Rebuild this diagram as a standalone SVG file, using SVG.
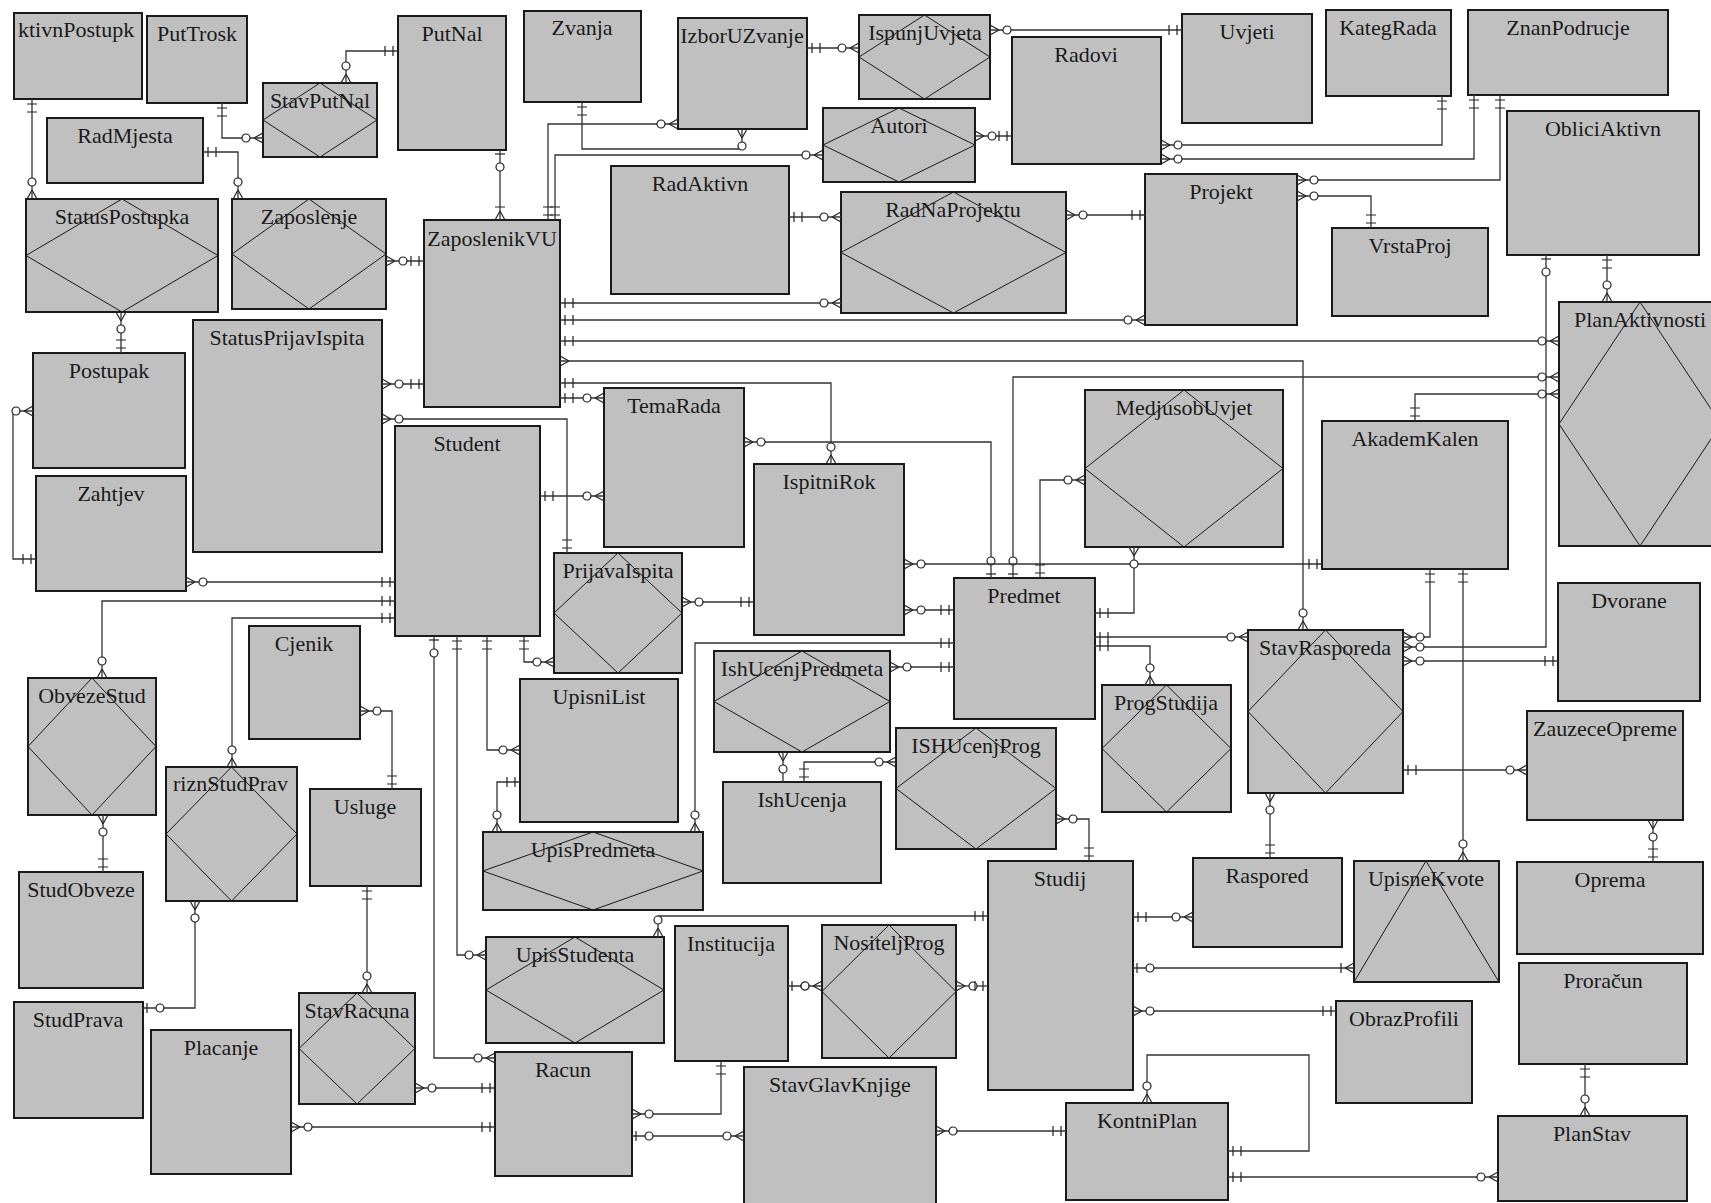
<svg xmlns="http://www.w3.org/2000/svg" width="1711" height="1203" viewBox="0 0 1711 1203">
<style>
.box{fill:#c0c0c0;stroke:#1a1a1a;stroke-width:2}
.dia{fill:none;stroke:#1a1a1a;stroke-width:1}
.lbl{font-family:"Liberation Serif",serif;font-size:22px;fill:#1a1a1a;text-anchor:middle}
.lft{text-anchor:start}
.c{fill:none;stroke:#333;stroke-width:1.3}
.m{fill:none;stroke:#222;stroke-width:1.2}
.mc{fill:#fff;stroke:#222;stroke-width:1.2}
</style>
<defs>
<marker id="mand" markerUnits="userSpaceOnUse" orient="auto-start-reverse" viewBox="-30 -10 40 20" markerWidth="40" markerHeight="20" refX="0" refY="0" overflow="visible"><path class="m" d="M-5,-5V5M-13,-5V5"/></marker>
<marker id="zm" markerUnits="userSpaceOnUse" orient="auto-start-reverse" viewBox="-30 -10 40 20" markerWidth="40" markerHeight="20" refX="0" refY="0" overflow="visible"><path class="m" d="M-9,0L0,-5M-9,0L0,5"/><circle class="mc" cx="-17" cy="0" r="4"/></marker>
<marker id="zo" markerUnits="userSpaceOnUse" orient="auto-start-reverse" viewBox="-30 -10 40 20" markerWidth="40" markerHeight="20" refX="0" refY="0" overflow="visible"><path class="m" d="M-4,-5V5"/><circle class="mc" cx="-17" cy="0" r="4"/></marker>
<marker id="om" markerUnits="userSpaceOnUse" orient="auto-start-reverse" viewBox="-30 -10 40 20" markerWidth="40" markerHeight="20" refX="0" refY="0" overflow="visible"><path class="m" d="M-9,0L0,-5M-9,0L0,5M-13,-5V5"/></marker>
<marker id="many" markerUnits="userSpaceOnUse" orient="auto-start-reverse" viewBox="-30 -10 40 20" markerWidth="40" markerHeight="20" refX="0" refY="0" overflow="visible"><path class="m" d="M-9,0L0,-5M-9,0L0,5"/></marker>
</defs>

<g id="nodes">
<g id="AktivnPostupka"><rect class="box" x="14" y="13" width="128" height="86"/><text class="lbl lft" x="18" y="37">ktivnPostupk</text></g>
<g id="PutTrosk"><rect class="box" x="147" y="16" width="100" height="87"/><text class="lbl" x="197" y="41">PutTrosk</text></g>
<g id="PutNal"><rect class="box" x="398" y="16" width="108" height="134"/><text class="lbl" x="452" y="41">PutNal</text></g>
<g id="RadMjesta"><rect class="box" x="47" y="118" width="156" height="65"/><text class="lbl" x="125" y="143">RadMjesta</text></g>
<g id="Postupak"><rect class="box" x="33" y="353" width="152" height="115"/><text class="lbl" x="109" y="378">Postupak</text></g>
<g id="StatusPrijavIspita"><rect class="box" x="193" y="320" width="189" height="232"/><text class="lbl" x="287" y="345">StatusPrijavIspita</text></g>
<g id="ZaposlenikVU"><rect class="box" x="424" y="220" width="136" height="187"/><text class="lbl" x="492" y="246">ZaposlenikVU</text></g>
<g id="Zvanja"><rect class="box" x="524" y="11" width="117" height="91"/><text class="lbl" x="582" y="35">Zvanja</text></g>
<g id="IzborUZvanje"><rect class="box" x="678" y="18" width="129" height="111"/><text class="lbl" x="742" y="43">IzborUZvanje</text></g>
<g id="RadAktivn"><rect class="box" x="611" y="166" width="178" height="128"/><text class="lbl" x="700" y="191">RadAktivn</text></g>
<g id="Radovi"><rect class="box" x="1012" y="37" width="149" height="127"/><text class="lbl" x="1086" y="62">Radovi</text></g>
<g id="Uvjeti"><rect class="box" x="1182" y="14" width="130" height="109"/><text class="lbl" x="1247" y="39">Uvjeti</text></g>
<g id="KategRada"><rect class="box" x="1326" y="10" width="125" height="86"/><text class="lbl" x="1388" y="35">KategRada</text></g>
<g id="ZnanPodrucje"><rect class="box" x="1468" y="10" width="200" height="85"/><text class="lbl" x="1568" y="35">ZnanPodrucje</text></g>
<g id="Projekt"><rect class="box" x="1145" y="174" width="152" height="151"/><text class="lbl" x="1221" y="199">Projekt</text></g>
<g id="VrstaProj"><rect class="box" x="1332" y="228" width="156" height="88"/><text class="lbl" x="1410" y="253">VrstaProj</text></g>
<g id="ObliciAktivn"><rect class="box" x="1507" y="111" width="192" height="144"/><text class="lbl" x="1603" y="136">ObliciAktivn</text></g>
<g id="Zahtjev"><rect class="box" x="36" y="476" width="150" height="115"/><text class="lbl" x="111" y="501">Zahtjev</text></g>
<g id="Student"><rect class="box" x="395" y="426" width="145" height="210"/><text class="lbl" x="467" y="451">Student</text></g>
<g id="TemaRada"><rect class="box" x="604" y="388" width="140" height="159"/><text class="lbl" x="674" y="413">TemaRada</text></g>
<g id="IspitniRok"><rect class="box" x="754" y="464" width="150" height="171"/><text class="lbl" x="829" y="489">IspitniRok</text></g>
<g id="Predmet"><rect class="box" x="954" y="578" width="141" height="141"/><text class="lbl" x="1024" y="603">Predmet</text></g>
<g id="AkademKalen"><rect class="box" x="1322" y="421" width="186" height="148"/><text class="lbl" x="1415" y="446">AkademKalen</text></g>
<g id="Dvorane"><rect class="box" x="1558" y="583" width="142" height="118"/><text class="lbl" x="1629" y="608">Dvorane</text></g>
<g id="Cjenik"><rect class="box" x="249" y="626" width="111" height="113"/><text class="lbl" x="304" y="651">Cjenik</text></g>
<g id="UpisniList"><rect class="box" x="520" y="679" width="158" height="143"/><text class="lbl" x="599" y="704">UpisniList</text></g>
<g id="IshUcenja"><rect class="box" x="723" y="782" width="158" height="101"/><text class="lbl" x="802" y="807">IshUcenja</text></g>
<g id="StudObveze"><rect class="box" x="19" y="872" width="124" height="116"/><text class="lbl" x="81" y="897">StudObveze</text></g>
<g id="StudPrava"><rect class="box" x="14" y="1002" width="129" height="116"/><text class="lbl" x="78" y="1027">StudPrava</text></g>
<g id="Usluge"><rect class="box" x="310" y="789" width="111" height="97"/><text class="lbl" x="365" y="814">Usluge</text></g>
<g id="Placanje"><rect class="box" x="151" y="1030" width="140" height="144"/><text class="lbl" x="221" y="1055">Placanje</text></g>
<g id="Racun"><rect class="box" x="495" y="1052" width="137" height="124"/><text class="lbl" x="563" y="1077">Racun</text></g>
<g id="Institucija"><rect class="box" x="675" y="926" width="113" height="135"/><text class="lbl" x="731" y="951">Institucija</text></g>
<g id="StavGlavKnjige"><rect class="box" x="744" y="1067" width="192" height="143"/><text class="lbl" x="840" y="1092">StavGlavKnjige</text></g>
<g id="Studij"><rect class="box" x="988" y="861" width="145" height="229"/><text class="lbl" x="1060" y="886">Studij</text></g>
<g id="Raspored"><rect class="box" x="1193" y="858" width="149" height="89"/><text class="lbl" x="1267" y="883">Raspored</text></g>
<g id="ObrazProfili"><rect class="box" x="1336" y="1001" width="136" height="102"/><text class="lbl" x="1404" y="1026">ObrazProfili</text></g>
<g id="KontniPlan"><rect class="box" x="1066" y="1103" width="162" height="97"/><text class="lbl" x="1147" y="1128">KontniPlan</text></g>
<g id="ZauzeceOpreme"><rect class="box" x="1527" y="711" width="156" height="109"/><text class="lbl" x="1605" y="736">ZauzeceOpreme</text></g>
<g id="Oprema"><rect class="box" x="1517" y="862" width="186" height="92"/><text class="lbl" x="1610" y="887">Oprema</text></g>
<g id="Proracun"><rect class="box" x="1519" y="963" width="168" height="101"/><text class="lbl" x="1603" y="988">Proračun</text></g>
<g id="PlanStav"><rect class="box" x="1498" y="1116" width="189" height="85"/><text class="lbl" x="1592" y="1141">PlanStav</text></g>

<g id="StavPutNal"><rect class="box" x="263" y="83" width="114" height="74"/><path class="dia" d="M320,83L377,120L320,157L263,120Z"/><text class="lbl" x="320" y="108">StavPutNal</text></g>
<g id="StatusPostupka"><rect class="box" x="26" y="199" width="192" height="113"/><path class="dia" d="M122,199L218,255.5L122,312L26,255.5Z"/><text class="lbl" x="122" y="224">StatusPostupka</text></g>
<g id="Zaposlenje"><rect class="box" x="232" y="199" width="154" height="110"/><path class="dia" d="M309,199L386,254L309,309L232,254Z"/><text class="lbl" x="309" y="224">Zaposlenje</text></g>
<g id="IspunjUvjeta"><rect class="box" x="859" y="15" width="131" height="84"/><path class="dia" d="M924.5,15L990,57L924.5,99L859,57Z"/><text class="lbl" x="925" y="40">IspunjUvjeta</text></g>
<g id="Autori"><rect class="box" x="823" y="108" width="152" height="74"/><path class="dia" d="M899,108L975,145L899,182L823,145Z"/><text class="lbl" x="899" y="133">Autori</text></g>
<g id="RadNaProjektu"><rect class="box" x="841" y="192" width="225" height="121"/><path class="dia" d="M953.5,192L1066,252.5L953.5,313L841,252.5Z"/><text class="lbl" x="953" y="217">RadNaProjektu</text></g>
<g id="PlanAktivnosti"><rect class="box" x="1559" y="302" width="162" height="244"/><path class="dia" d="M1640,302L1721,424L1640,546L1559,424Z"/><text class="lbl" x="1640" y="327">PlanAktivnosti</text></g>
<g id="MedjusobUvjet"><rect class="box" x="1085" y="390" width="198" height="157"/><path class="dia" d="M1184,390L1283,468.5L1184,547L1085,468.5Z"/><text class="lbl" x="1184" y="415">MedjusobUvjet</text></g>
<g id="PrijavaIspita"><rect class="box" x="554" y="553" width="128" height="120"/><path class="dia" d="M618,553L682,613L618,673L554,613Z"/><text class="lbl" x="618" y="578">PrijavaIspita</text></g>
<g id="IshUcenjPredmeta"><rect class="box" x="714" y="651" width="176" height="101"/><path class="dia" d="M802,651L890,701.5L802,752L714,701.5Z"/><text class="lbl" x="802" y="676">IshUcenjPredmeta</text></g>
<g id="ISHUcenjProg"><rect class="box" x="896" y="728" width="160" height="121"/><path class="dia" d="M976,728L1056,788.5L976,849L896,788.5Z"/><text class="lbl" x="976" y="753">ISHUcenjProg</text></g>
<g id="ProgStudija"><rect class="box" x="1102" y="685" width="129" height="127"/><path class="dia" d="M1166.5,685L1231,748.5L1166.5,812L1102,748.5Z"/><text class="lbl" x="1166" y="710">ProgStudija</text></g>
<g id="StavRasporeda"><rect class="box" x="1248" y="630" width="155" height="163"/><path class="dia" d="M1325.5,630L1403,711.5L1325.5,793L1248,711.5Z"/><text class="lbl" x="1325" y="655">StavRasporeda</text></g>
<g id="ObvezeStud"><rect class="box" x="28" y="678" width="128" height="137"/><path class="dia" d="M92,678L156,746.5L92,815L28,746.5Z"/><text class="lbl" x="92" y="703">ObvezeStud</text></g>
<g id="PriznStudPrav"><rect class="box" x="166" y="767" width="131" height="134"/><path class="dia" d="M231.5,767L297,834L231.5,901L166,834Z"/><text class="lbl lft" x="173" y="791">riznStudPrav</text></g>
<g id="StavRacuna"><rect class="box" x="299" y="993" width="116" height="111"/><path class="dia" d="M357,993L415,1048.5L357,1104L299,1048.5Z"/><text class="lbl" x="357" y="1018">StavRacuna</text></g>
<g id="UpisPredmeta"><rect class="box" x="483" y="832" width="220" height="78"/><path class="dia" d="M593,832L703,871L593,910L483,871Z"/><text class="lbl" x="593" y="857">UpisPredmeta</text></g>
<g id="UpisStudenta"><rect class="box" x="486" y="937" width="178" height="106"/><path class="dia" d="M575,937L664,990L575,1043L486,990Z"/><text class="lbl" x="575" y="962">UpisStudenta</text></g>
<g id="NositeljProg"><rect class="box" x="822" y="925" width="134" height="133"/><path class="dia" d="M889,925L956,991.5L889,1058L822,991.5Z"/><text class="lbl" x="889" y="950">NositeljProg</text></g>
<g id="UpisneKvote"><rect class="box" x="1354" y="861" width="145" height="121"/><path class="dia" d="M1354,982L1426,861L1499,982"/><text class="lbl" x="1426" y="886">UpisneKvote</text></g>
</g>

<g id="connectors">
<path class="c" d="M32,99V199" marker-start="url(#mand)" marker-end="url(#zm)"/>
<path class="c" d="M222,103V138H263" marker-start="url(#mand)" marker-end="url(#zm)"/>
<path class="c" d="M346,83V51H398" marker-start="url(#zm)" marker-end="url(#mand)"/>
<path class="c" d="M203,152H238V199" marker-start="url(#mand)" marker-end="url(#zm)"/>
<path class="c" d="M121,312V353" marker-start="url(#zm)" marker-end="url(#mand)"/>
<path class="c" d="M386,261H424" marker-start="url(#zm)" marker-end="url(#mand)"/>
<path class="c" d="M382,384H424" marker-start="url(#zm)" marker-end="url(#mand)"/>
<path class="c" d="M500,150V220" marker-start="url(#zo)" marker-end="url(#om)"/>
<path class="c" d="M582,102V149H742V129" marker-start="url(#mand)" marker-end="url(#zm)"/>
<path class="c" d="M548,220V124H678" marker-start="url(#mand)" marker-end="url(#zm)"/>
<path class="c" d="M555,220V155H823" marker-start="url(#mand)" marker-end="url(#zm)"/>
<path class="c" d="M807,48H859" marker-start="url(#mand)" marker-end="url(#zm)"/>
<path class="c" d="M990,30H1182" marker-start="url(#zm)" marker-end="url(#mand)"/>
<path class="c" d="M975,136H1012" marker-start="url(#zm)" marker-end="url(#mand)"/>
<path class="c" d="M1161,145H1442V96" marker-start="url(#zm)" marker-end="url(#mand)"/>
<path class="c" d="M1161,159H1474V95" marker-start="url(#zm)" marker-end="url(#mand)"/>
<path class="c" d="M789,217H841" marker-start="url(#mand)" marker-end="url(#zm)"/>
<path class="c" d="M1066,215H1145" marker-start="url(#zm)" marker-end="url(#mand)"/>
<path class="c" d="M1297,180H1500V95" marker-start="url(#zm)" marker-end="url(#mand)"/>
<path class="c" d="M1297,196H1371V228" marker-start="url(#zm)" marker-end="url(#mand)"/>
<path class="c" d="M560,303H841" marker-start="url(#mand)" marker-end="url(#zm)"/>
<path class="c" d="M560,320H1145" marker-start="url(#mand)" marker-end="url(#zm)"/>
<path class="c" d="M560,341H1559" marker-start="url(#mand)" marker-end="url(#zm)"/>
<path class="c" d="M560,361H1303V630" marker-start="url(#many)" marker-end="url(#zm)"/>
<path class="c" d="M560,383H831V464" marker-start="url(#mand)" marker-end="url(#zm)"/>
<path class="c" d="M560,398H604" marker-start="url(#mand)" marker-end="url(#zm)"/>
<path class="c" d="M1607,255V302" marker-start="url(#mand)" marker-end="url(#zm)"/>
<path class="c" d="M1546,255V647H1403" marker-start="url(#zo)" marker-end="url(#zm)"/>
<path class="c" d="M1013,578V377H1559" marker-start="url(#zo)" marker-end="url(#zm)"/>
<path class="c" d="M1415,421V394H1559" marker-start="url(#mand)" marker-end="url(#zm)"/>
<path class="c" d="M382,419H567V553" marker-start="url(#zm)" marker-end="url(#mand)"/>
<path class="c" d="M33,411H13V559H36" marker-start="url(#zm)" marker-end="url(#mand)"/>
<path class="c" d="M186,582H395" marker-start="url(#zm)" marker-end="url(#mand)"/>
<path class="c" d="M395,601H102V678" marker-start="url(#mand)" marker-end="url(#zm)"/>
<path class="c" d="M395,618H232V767" marker-start="url(#mand)" marker-end="url(#zm)"/>
<path class="c" d="M540,496H604" marker-start="url(#mand)" marker-end="url(#zm)"/>
<path class="c" d="M744,442H991V578" marker-start="url(#zm)" marker-end="url(#zo)"/>
<path class="c" d="M682,602H754" marker-start="url(#zm)" marker-end="url(#mand)"/>
<path class="c" d="M524,636V662H554" marker-start="url(#mand)" marker-end="url(#zm)"/>
<path class="c" d="M487,636V750H520" marker-start="url(#mand)" marker-end="url(#zm)"/>
<path class="c" d="M520,782H497V832" marker-start="url(#mand)" marker-end="url(#zm)"/>
<path class="c" d="M954,643H695V832" marker-start="url(#mand)" marker-end="url(#zm)"/>
<path class="c" d="M783,752V782" marker-start="url(#zm)"/>
<path class="c" d="M804,782V762H896" marker-start="url(#mand)" marker-end="url(#zm)"/>
<path class="c" d="M904,564H1322" marker-start="url(#zm)" marker-end="url(#mand)"/>
<path class="c" d="M904,610H954" marker-start="url(#zm)" marker-end="url(#mand)"/>
<path class="c" d="M890,667H954" marker-start="url(#zm)" marker-end="url(#mand)"/>
<path class="c" d="M1095,613H1134V547" marker-start="url(#mand)" marker-end="url(#zm)"/>
<path class="c" d="M1040,578V480H1085" marker-start="url(#mand)" marker-end="url(#zm)"/>
<path class="c" d="M1095,637H1248" marker-start="url(#mand)" marker-end="url(#zm)"/>
<path class="c" d="M1095,646H1150V685" marker-start="url(#mand)" marker-end="url(#zm)"/>
<path class="c" d="M1430,569V637H1403" marker-start="url(#mand)" marker-end="url(#zm)"/>
<path class="c" d="M1558,661H1403" marker-start="url(#mand)" marker-end="url(#zm)"/>
<path class="c" d="M1463,569V861" marker-start="url(#mand)" marker-end="url(#zm)"/>
<path class="c" d="M1403,770H1527" marker-start="url(#mand)" marker-end="url(#zm)"/>
<path class="c" d="M1653,820V862" marker-start="url(#zm)" marker-end="url(#mand)"/>
<path class="c" d="M1270,793V858" marker-start="url(#zm)" marker-end="url(#mand)"/>
<path class="c" d="M103,815V872" marker-start="url(#zm)" marker-end="url(#mand)"/>
<path class="c" d="M195,901V1008H143" marker-start="url(#zm)" marker-end="url(#zo)"/>
<path class="c" d="M360,711H392V789" marker-start="url(#zm)" marker-end="url(#mand)"/>
<path class="c" d="M367,886V993" marker-start="url(#mand)" marker-end="url(#zm)"/>
<path class="c" d="M415,1088H495" marker-start="url(#zm)" marker-end="url(#mand)"/>
<path class="c" d="M291,1127H495" marker-start="url(#zm)" marker-end="url(#mand)"/>
<path class="c" d="M457,636V955H486" marker-start="url(#mand)" marker-end="url(#zm)"/>
<path class="c" d="M434,636V1058H495" marker-start="url(#zo)" marker-end="url(#zm)"/>
<path class="c" d="M988,916H658V937" marker-start="url(#mand)" marker-end="url(#zm)"/>
<path class="c" d="M788,986H822" marker-start="url(#zo)" marker-end="url(#zm)"/>
<path class="c" d="M956,986H988" marker-start="url(#zm)" marker-end="url(#mand)"/>
<path class="c" d="M721,1061V1114H632" marker-start="url(#mand)" marker-end="url(#zm)"/>
<path class="c" d="M632,1136H744" marker-start="url(#zo)" marker-end="url(#zm)"/>
<path class="c" d="M1056,819H1089V861" marker-start="url(#zm)" marker-end="url(#mand)"/>
<path class="c" d="M1133,917H1193" marker-start="url(#mand)" marker-end="url(#zm)"/>
<path class="c" d="M1133,968H1354" marker-start="url(#zo)" marker-end="url(#om)"/>
<path class="c" d="M1133,1011H1336" marker-start="url(#zm)" marker-end="url(#mand)"/>
<path class="c" d="M1147,1103V1055H1309V1151H1228" marker-start="url(#zm)" marker-end="url(#mand)"/>
<path class="c" d="M1228,1177H1498" marker-start="url(#mand)" marker-end="url(#zm)"/>
<path class="c" d="M936,1131H1066" marker-start="url(#zm)" marker-end="url(#mand)"/>
<path class="c" d="M1585,1064V1116" marker-start="url(#mand)" marker-end="url(#zm)"/>
</g>
</svg>
